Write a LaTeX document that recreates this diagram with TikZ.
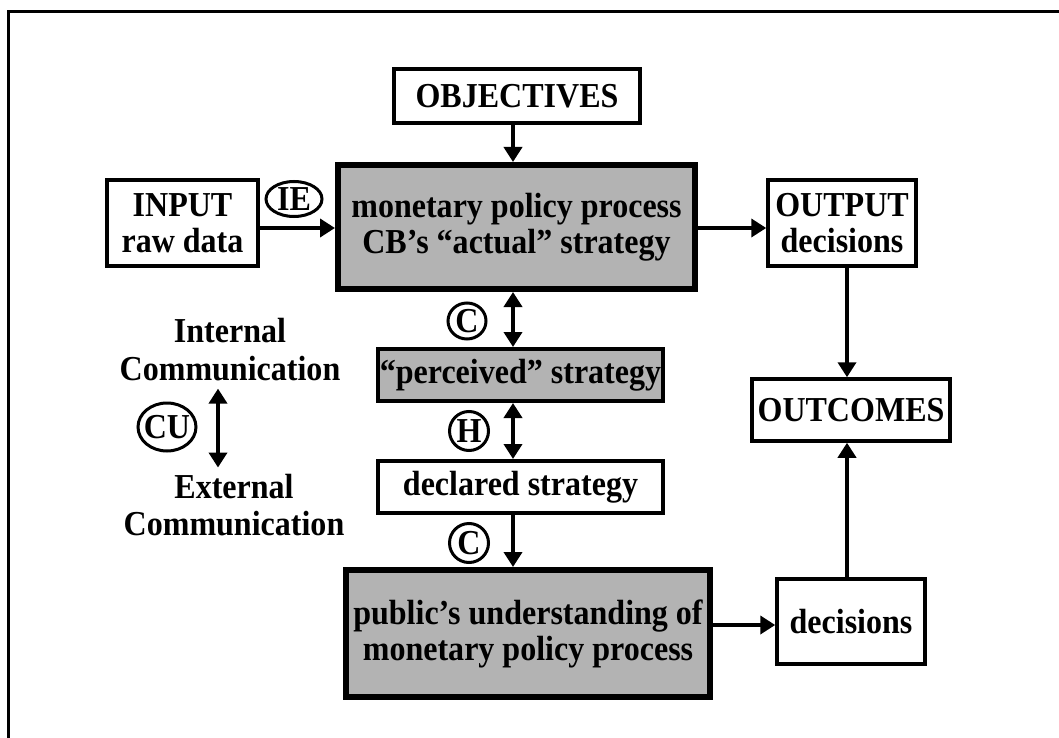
\documentclass[tikz,border=0pt]{standalone}
\usepackage{fontspec}
\setmainfont{Liberation Serif}[FakeStretch=0.915]
\usetikzlibrary{arrows.meta}
\definecolor{boxgray}{RGB}{179,179,179}
\begin{document}
\begin{tikzpicture}[x=1pt,y=-1pt,
  every node/.style={font=\fontsize{35}{36}\selectfont\bfseries, inner sep=0pt, align=center},
  thinbox/.style={draw, line width=3.5pt, fill=white},
  thickbox/.style={draw, line width=6pt, fill=boxgray},
  midbox/.style={draw, line width=4pt, fill=boxgray},
  plainbox/.style={draw, line width=4pt, fill=white},
  arr/.style={line width=4pt, -{Triangle[length=15pt,width=18pt]}},
  darr/.style={line width=4pt, {Triangle[length=15pt,width=18pt]}-{Triangle[length=15pt,width=18pt]}},
  ring/.style={line width=3pt}
]
\useasboundingbox (0,0) rectangle (1059,738);
% frame (only top and left edges visible)
\draw[line width=3pt] (8,738) -- (8,12) -- (1059,12);

% helper coordinates for connector lines
\coordinate (ax) at (513,0);
\coordinate (rx) at (847,0);
\coordinate (ay) at (0,228);
\coordinate (by) at (0,625);
\coordinate (lx) at (218,0);

% boxes
\node[thinbox, minimum width=246pt, minimum height=54pt] (obj) at (517,96) {OBJECTIVES};
\node[thickbox, minimum width=357pt, minimum height=124pt] (main) at (516.5,227) {monetary policy process\\CB’s “actual” strategy};
\node[thinbox, minimum width=151pt, minimum height=86pt] (input) at (182.5,223) {INPUT\\raw data};
\node[thinbox, minimum width=148pt, minimum height=86pt] (output) at (842,223) {OUTPUT\\decisions};
\node[thinbox, minimum width=198pt, minimum height=62pt] (outcomes) at (851,410) {OUTCOMES};
\node[midbox, minimum width=285pt, minimum height=52pt] (perc) at (520.5,375) {“perceived” strategy};
\node[plainbox, minimum width=285pt, minimum height=52pt] (decl) at (520.5,487) {declared strategy};
\node[thickbox, minimum width=364pt, minimum height=127pt] (public) at (528,633.5) {public’s understanding of\\monetary policy process};
\node[thinbox, minimum width=148pt, minimum height=85pt] (dec) at (851,621.5) {decisions};

% circled labels
\node (ie) at (294,199) {IE};
\draw[ring] (ie.center) ellipse [x radius=28pt, y radius=17.5pt];
\node (c1) at (467,321) {C};
\draw[ring] (c1.center) ellipse [x radius=19pt, y radius=18pt];
\node (h) at (469,431) {H};
\draw[ring] (h.center) ellipse [x radius=19.5pt, y radius=19.5pt];
\node (c2) at (469,543) {C};
\draw[ring] (c2.center) ellipse [x radius=19.5pt, y radius=19.5pt];
\node (cu) at (167,427) {CU};
\draw[ring] (cu.center) ellipse [x radius=29pt, y radius=24pt];

% left legend texts
\node[anchor=base] (int1) at (230,342) {Internal};
\node[anchor=base] (int2) at (230,380) {Communication};
\node[anchor=base] (ext1) at (234,498) {External};
\node[anchor=base] (ext2) at (234,535) {Communication};

% connectors
\draw[arr] (obj.south -| ax) -- (main.north -| ax);
\draw[arr] (input.east |- ay) -- (main.west |- ay);
\draw[arr] (main.east |- ay) -- (output.west |- ay);
\draw[darr] (main.south -| ax) -- (perc.north -| ax);
\draw[darr] (perc.south -| ax) -- (decl.north -| ax);
\draw[arr] (decl.south -| ax) -- (public.north -| ax);
\draw[arr] (public.east |- by) -- (dec.west |- by);
\draw[arr] (output.south -| rx) -- (outcomes.north -| rx);
\draw[arr] (dec.north -| rx) -- (outcomes.south -| rx);
\draw[darr] ([yshift=-8pt]int2.south -| lx) -- ([yshift=6pt]ext1.north -| lx);
\end{tikzpicture}
\end{document}
